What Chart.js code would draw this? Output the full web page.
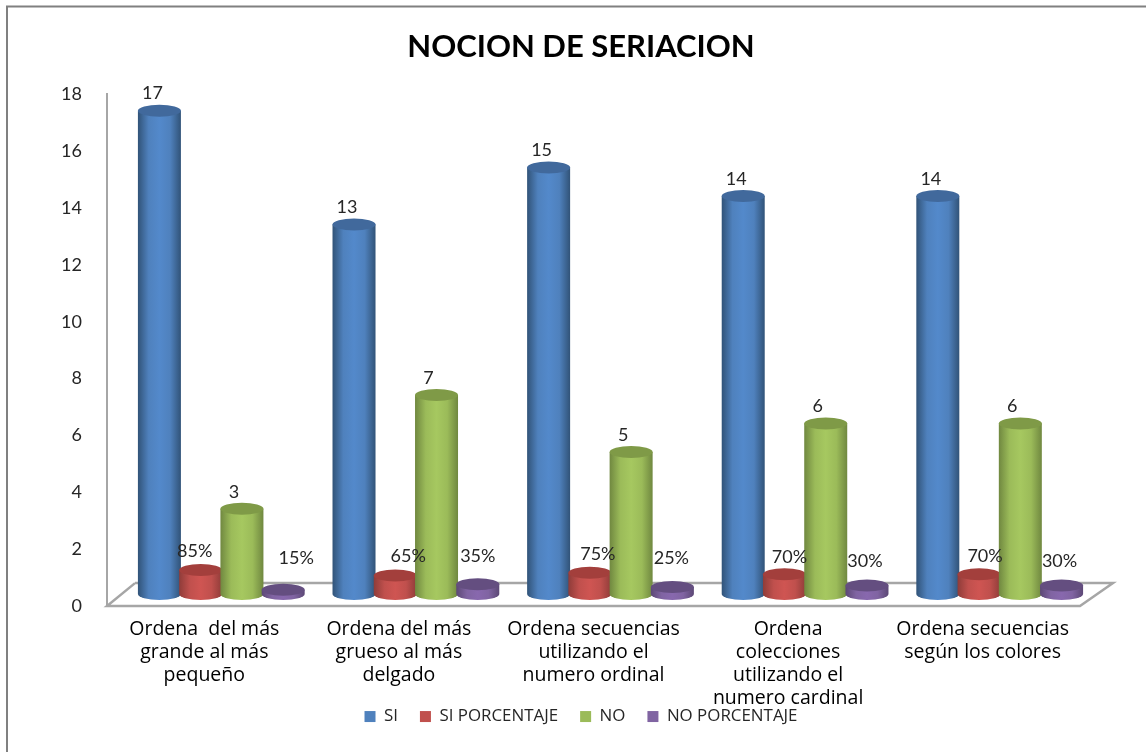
<!DOCTYPE html>
<html><head><meta charset="utf-8">
<style>html,body{margin:0;padding:0;background:#fff}#wrap{position:relative;width:1146px;height:752px}</style>
<script src="https://cdn.jsdelivr.net/npm/chart.js@4"></script></head>
<body><div id="wrap"><canvas id="c" width="1146" height="752"></canvas></div>
<script>
const chartTitle = 'NOCION DE SERIACION';
const categories = [
  ['Ordena  del más','grande al más','pequeño'],
  ['Ordena del más','grueso al más','delgado'],
  ['Ordena secuencias','utilizando el','numero ordinal'],
  ['Ordena','colecciones','utilizando el','numero cardinal'],
  ['Ordena secuencias','según los colores']
];
const si = [17,13,15,14,14];
const siPct = [0.85,0.65,0.75,0.70,0.70];
const no = [3,7,5,6,6];
const noPct = [0.15,0.35,0.25,0.30,0.30];
const yTicks = [0,2,4,6,8,10,12,14,16,18];

const FONT = 'Lato, Carlito, Calibri, sans-serif';
const TEXTFONT = '"Open Sans", Lato, sans-serif';
const shade = {
  blue:  {base:'#4f81bd', light:'#5389cb', dark:'#315378', top:'#41699c'},
  red:   {base:'#c0504d', light:'#cf5552', dark:'#8f3c39', top:'#a33f3c'},
  green: {base:'#9bbb59', light:'#a6c860', dark:'#708840', top:'#7f9a47'},
  purple:{base:'#8064a2', light:'#8868ae', dark:'#5c4875', top:'#644e80'}
};
const DEPTH = {dx:17, dy:-12, ry:6, rx:21.5};
const FLOOR = {dx:28, dy:-23};
const pctFmt = v => Math.round(v*100)+'%';
const intFmt = v => String(v);
// hand-placed label nudges of the reference, relative to the top of each cylinder
const nudges = [
  [[-7,-17],[-7,-17],[-7,-17],[-7,-17],[-7,-17]],
  [[-6,-19],[13,-19],[8,-19],[5,-17],[6,-18]],
  [[-8,-17],[-8,-17],[-8,-17],[-8,-17],[-8,-17]],
  [[13,-32],[0,-28],[-1,-29],[-2,-24],[-2,-24]]
];

const cylinders = {
  id:'cylinders',
  afterLayout(chart){
    // the tallest category label hangs over the legend band, as in the reference
    const x = chart.scales.x;
    x.bottom = x.top + 112;
  },
  beforeDatasetsDraw(chart){
    const {ctx, chartArea:a} = chart;
    ctx.save();
    ctx.strokeStyle='#a6a6a6'; ctx.lineWidth=2.5; ctx.lineJoin='miter';
    ctx.beginPath();
    ctx.moveTo(a.left+FLOOR.dx, a.bottom+FLOOR.dy);
    ctx.lineTo(a.left, a.bottom);
    ctx.lineTo(a.right, a.bottom);
    ctx.lineTo(a.right+FLOOR.dx+5, a.bottom+FLOOR.dy);
    ctx.lineTo(a.left+FLOOR.dx, a.bottom+FLOOR.dy);
    ctx.stroke();
    ctx.restore();
  },
  afterDatasetsDraw(chart){
    const {ctx} = chart;
    chart.data.datasets.forEach((ds,i)=>{
      const meta = chart.getDatasetMeta(i);
      meta.data.forEach((el,j)=>{
        const cx = el.x+DEPTH.dx, top = el.y+DEPTH.dy, base = el.base+DEPTH.dy;
        const rx = DEPTH.rx, ry = DEPTH.ry, s = ds.shade;
        const g = ctx.createLinearGradient(cx-rx,0,cx+rx,0);
        g.addColorStop(0,s.dark); g.addColorStop(0.25,s.base);
        g.addColorStop(0.5,s.light); g.addColorStop(0.75,s.base); g.addColorStop(1,s.dark);
        ctx.save();
        ctx.fillStyle=g;
        ctx.beginPath();
        ctx.moveTo(cx-rx,top);
        ctx.lineTo(cx-rx,base);
        ctx.ellipse(cx,base,rx,ry,0,Math.PI,0,true);
        ctx.lineTo(cx+rx,top);
        ctx.closePath();
        ctx.fill();
        ctx.fillStyle=s.top;
        ctx.beginPath();
        ctx.ellipse(cx,top,rx,ry,0,0,Math.PI*2);
        ctx.fill();
        ctx.restore();
      });
    });
    ctx.save();
    ctx.font='18px '+FONT; ctx.fillStyle='#262626'; ctx.textAlign='center'; ctx.textBaseline='middle';
    chart.data.datasets.forEach((ds,i)=>{
      chart.getDatasetMeta(i).data.forEach((el,j)=>{
        const n = nudges[i][j];
        ctx.fillText(ds.fmt(ds.data[j]), el.x+DEPTH.dx+n[0], el.y+DEPTH.dy+n[1]);
      });
    });
    ctx.restore();
  }
};
const frame = {
  id:'frame',
  beforeDraw(chart){
    const {ctx,width,height}=chart;
    ctx.save(); ctx.fillStyle='#fff'; ctx.fillRect(0,0,width,height);
    ctx.strokeStyle='#808080'; ctx.lineWidth=2;
    ctx.beginPath(); ctx.moveTo(7,height); ctx.lineTo(7,6.5); ctx.lineTo(width,6.5); ctx.stroke();
    ctx.restore();
  }
};
const TRANSPARENT='rgba(0,0,0,0)';
const mk=(label,data,s,fmt)=>({label,data,fmt,shade:shade[s],backgroundColor:shade[s].base,borderWidth:0,
  hoverBackgroundColor:shade[s].base});
// native bars stay invisible; the legend keeps series colours, the plugin paints cylinders from the bar elements
const hideBars = {id:'hideBars',beforeDatasetsDraw(chart){chart.data.datasets.forEach((d,i)=>{
  chart.getDatasetMeta(i).data.forEach(el=>{el.options.backgroundColor=TRANSPARENT;});});}};
new Chart(document.getElementById('c'),{
  type:'bar',
  data:{labels:categories,datasets:[
    mk('SI',si,'blue',intFmt),
    mk('SI PORCENTAJE',siPct,'red',pctFmt),
    mk('NO',no,'green',intFmt),
    mk('NO PORCENTAJE',noPct,'purple',pctFmt)
  ]},
  plugins:[frame,hideBars,cylinders],
  options:{
    responsive:false,animation:false,devicePixelRatio:1,
    layout:{padding:{left:16,right:0,top:0,bottom:17}},
    datasets:{bar:{categoryPercentage:0.848,barPercentage:1}},
    plugins:{
      tooltip:{enabled:false},
      title:{display:true,text:chartTitle,color:'#000',font:{family:FONT,size:31,weight:'bold'},padding:{top:28,bottom:29}},
      legend:{position:'bottom',labels:{boxWidth:11,boxHeight:11,padding:22,color:'#262626',font:{family:TEXTFONT,size:16.9}}}
    },
    scales:{
      x:{grid:{display:false},border:{display:false},
        afterFit(ax){ax.height=80;},
        ticks:{maxRotation:0,minRotation:0,autoSkip:false,color:'#000',font:{family:TEXTFONT,size:19.5,lineHeight:1.18},padding:4}},
      y:{min:0,max:18,grid:{display:false},border:{display:true,color:'#a6a6a6',width:2},
        afterBuildTicks(ax){ax.ticks=yTicks.map(value=>({value}));},
        afterFit(ax){ax.width=91;},
        ticks:{color:'#262626',font:{family:FONT,size:18},padding:17}},
      yr:{position:'right',display:true,min:0,max:18,grid:{display:false},border:{display:false},
        ticks:{display:false},afterFit(ax){ax.width=66;}}
    }
  }
});
</script></body></html>
